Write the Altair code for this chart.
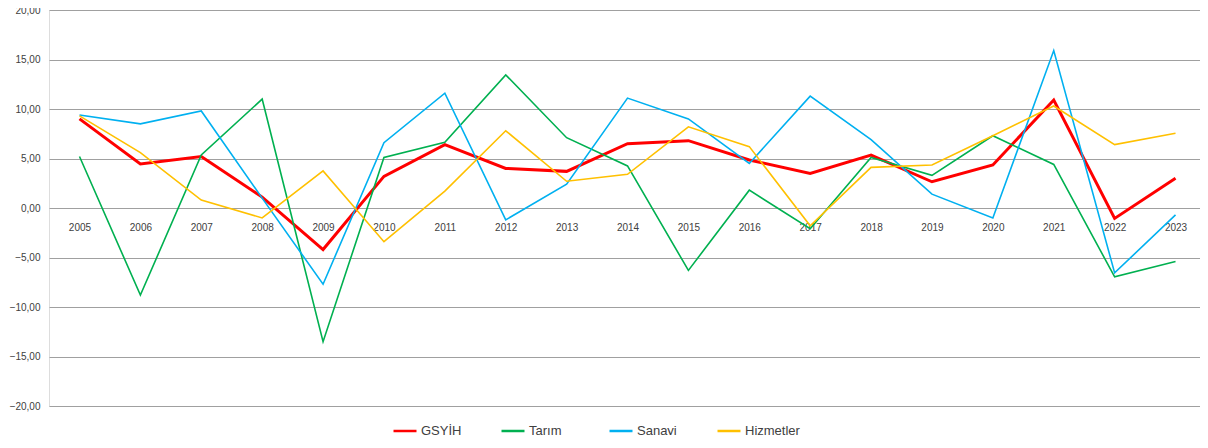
import altair as alt
import pandas as pd

years = list(range(2005, 2024))
series_names = ["GSYİH", "Tarım", "Sanayi", "Hizmetler"]
series_colors = ["#FF0000", "#00B050", "#00B0F0", "#FFC000"]

gsyih = [9.0, 4.45, 5.2, 1.1, -4.2, 3.2, 6.4, 4.0, 3.7, 6.5, 6.8, 4.85, 3.5, 5.35, 2.65, 4.35, 10.9, -1.05, 3.0]
tarim = [5.2, -8.8, 5.35, 11.0, -13.5, 5.1, 6.65, 13.45, 7.1, 4.25, -6.3, 1.8, -2.1, 5.1, 3.3, 7.3, 4.4, -6.95, -5.4]
sanayi = [9.4, 8.5, 9.8, 1.0, -7.7, 6.6, 11.6, -1.2, 2.4, 11.1, 9.0, 4.5, 11.3, 6.9, 1.4, -1.0, 15.9, -6.55, -0.7]
hizmetler = [9.3, 5.6, 0.8, -1.0, 3.75, -3.4, 1.7, 7.8, 2.7, 3.4, 8.2, 6.2, -1.8, 4.1, 4.35, 7.3, 10.3, 6.4, 7.55]

y_ticks = [-20, -15, -10, -5, 0, 5, 10, 15, 20]

all_values = [gsyih, tarim, sanayi, hizmetler]
rows = []
for name, vals in zip(series_names, all_values):
    for yr, v in zip(years, vals):
        rows.append({"Yıl": yr, "Seri": name, "Değer": v})
df = pd.DataFrame(rows)

W = 1151
H = 396

x_enc = alt.X(
    "Yıl:Q",
    scale=alt.Scale(domain=[2004.4991, 2023.402], nice=False, zero=False),
    axis=alt.Axis(
        title=None,
        orient="bottom",
        offset=-H / 2,
        values=years,
        format="d",
        domain=False,
        ticks=False,
        grid=False,
        labelAngle=0,
        labelPadding=14,
        labelFlush=False,
        labelOverlap=False,
        labelFont="Liberation Sans",
        labelFontSize=10,
        labelColor="#404040",
    ),
)
y_enc = alt.Y(
    "Değer:Q",
    scale=alt.Scale(domain=[-20, 20], nice=False, zero=False),
    axis=alt.Axis(
        title=None,
        values=y_ticks,
        domain=False,
        ticks=False,
        grid=True,
        gridColor="#A0A0A0",
        gridWidth=1.2,
        labelPadding=9,
        labelFont="Liberation Sans",
        labelFontSize=10,
        labelColor="#404040",
        labelExpr="replace(format(datum.value, '.2f'), '.', ',')",
    ),
)
color_enc = alt.Color(
    "Seri:N",
    scale=alt.Scale(domain=series_names, range=series_colors),
    legend=alt.Legend(
        title=None,
        orient="none",
        direction="horizontal",
        columns=4,
        legendX=343,
        legendY=408,
        gridAlign="all",
        columnPadding=20,
        symbolType="stroke",
        symbolSize=529,
        symbolStrokeWidth=2.5,
        labelOffset=3,
        labelFont="Liberation Sans",
        labelFontSize=13,
        labelColor="#404040",
    ),
)

layers = []
for name in series_names:
    sw = 3 if name == "GSYİH" else 1.6
    layers.append(
        alt.Chart(df)
        .transform_filter(alt.datum["Seri"] == name)
        .mark_line(strokeWidth=sw)
        .encode(x=x_enc, y=y_enc, color=color_enc)
    )

chart = (
    alt.layer(*layers)
    .properties(
        width=W,
        height=H,
        autosize=alt.AutoSizeParams(type="none"),
        padding={"left": 41, "top": 2, "right": 0, "bottom": 29},
    )
    .configure_view(stroke=None)
    .configure(background="white")
)

chart.save("out.html", embed_options={"renderer": "svg", "actions": False})
